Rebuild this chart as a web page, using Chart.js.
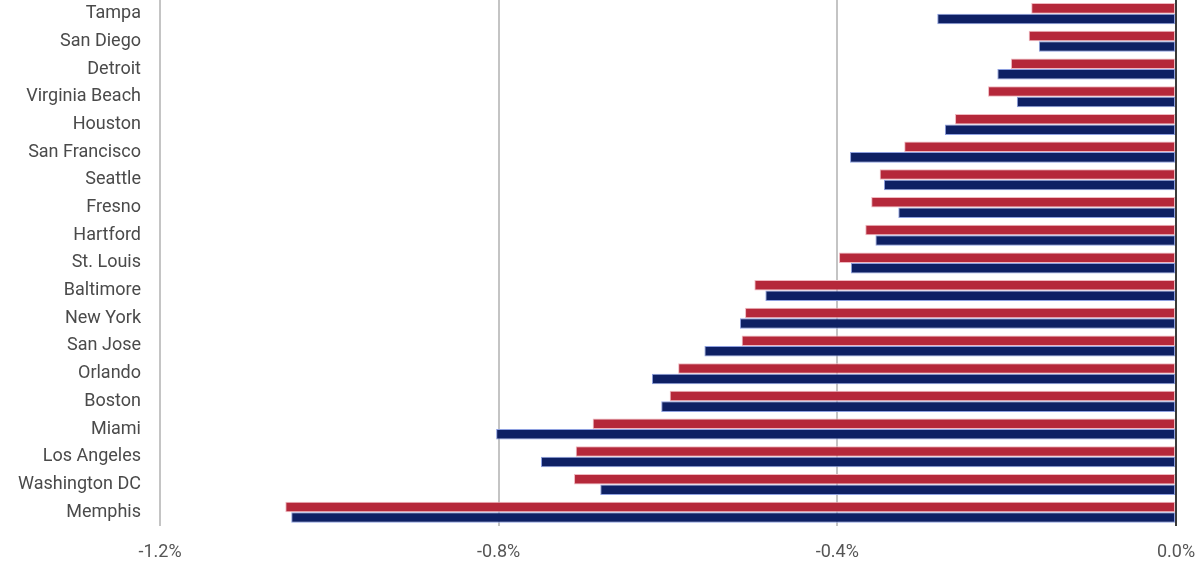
<!DOCTYPE html>
<html lang="en">
<head>
    <meta charset="UTF-8">
    <title>City Change</title>
    <script src="https://cdn.jsdelivr.net/npm/chart.js"></script>
    <style>
        html, body { margin: 0; padding: 0; background: #fff; overflow: hidden; }
        /* chart sits a little above the window top, like the cropped original */
        #wrap { position: absolute; left: 0; top: -11px; width: 1200px; height: 584px; }
    </style>
</head>
<body>
    <div id="wrap"><canvas id="myChart"></canvas></div>
    <script>
        const cities = ["Tampa", "San Diego", "Detroit", "Virginia Beach", "Houston", "San Francisco",
            "Seattle", "Fresno", "Hartford", "St. Louis", "Baltimore", "New York", "San Jose",
            "Orlando", "Boston", "Miami", "Los Angeles", "Washington DC", "Memphis"];
        const redValues = [-0.171, -0.174, -0.195, -0.222, -0.261, -0.321, -0.350, -0.360, -0.367,
            -0.398, -0.498, -0.509, -0.513, -0.588, -0.598, -0.689, -0.709, -0.711, -1.052];
        const navyValues = [-0.282, -0.162, -0.211, -0.188, -0.273, -0.385, -0.345, -0.328, -0.355,
            -0.384, -0.485, -0.515, -0.557, -0.619, -0.608, -0.803, -0.750, -0.680, -1.045];
        const xTicks = [-1.2, -0.8, -0.4, 0.0];

        const font = "Roboto, 'Liberation Sans', sans-serif";

        new Chart(document.getElementById("myChart"), {
            type: "bar",
            data: {
                labels: cities,
                datasets: [{
                    label: "Series 1",
                    data: redValues,
                    backgroundColor: "#b5283a",
                    borderColor: "#f0b8c0",
                    borderWidth: 1,
                    borderSkipped: false,
                    barPercentage: 1,
                    categoryPercentage: 0.76
                }, {
                    label: "Series 2",
                    data: navyValues,
                    backgroundColor: "#0e2064",
                    borderColor: "#8ea0e0",
                    borderWidth: 1,
                    borderSkipped: false,
                    barPercentage: 1,
                    categoryPercentage: 0.76
                }]
            },
            options: {
                indexAxis: "y",
                responsive: true,
                maintainAspectRatio: false,
                animation: false,
                layout: { padding: 0 },
                plugins: {
                    legend: { display: false },
                    tooltip: { enabled: false }
                },
                scales: {
                    x: {
                        min: -1.2,
                        max: 0,
                        afterBuildTicks: axis => { axis.ticks = xTicks.map(v => ({ value: v })); },
                        grid: {
                            color: ctx => ctx.tick && ctx.tick.value === 0 ? "#3a3a3a" : "#c4c4c4",
                            lineWidth: 2,
                            drawTicks: false
                        },
                        border: { display: false },
                        ticks: {
                            color: "#555",
                            padding: 16,
                            font: { family: font, size: 18 },
                            callback: v => v.toFixed(1) + "%"
                        },
                        afterFit: axis => {
                            axis.height = 47;
                            axis.paddingLeft = 0;
                            axis.paddingRight = 24;
                        }
                    },
                    y: {
                        // invisible tick marks keep the labels off the plot without padding the top
                        grid: { display: false, drawTicks: true, tickLength: 19 },
                        border: { display: false },
                        ticks: {
                            color: "#4a4a4a",
                            padding: 0,
                            font: { family: font, size: 18 },
                            autoSkip: false
                        },
                        afterFit: axis => { axis.width = 160; }
                    }
                }
            }
        });
    </script>
</body>
</html>
